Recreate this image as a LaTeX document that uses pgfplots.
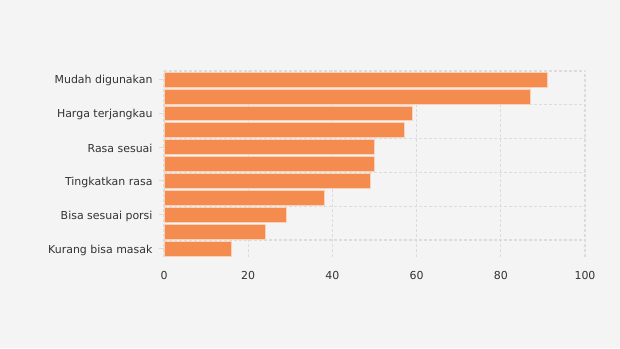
\documentclass[border=0pt]{standalone}
\usepackage{pgfplots}
\pgfplotsset{compat=1.18}
\usepackage{fontspec}
\setmainfont{DejaVu Sans}
\definecolor{bg}{HTML}{F4F4F4}
\definecolor{barc}{HTML}{F48C4F}
\definecolor{gridc}{HTML}{DCDCDC}
\definecolor{txt}{HTML}{333333}
\begin{document}
\begin{tikzpicture}[x=1bp,y=1bp]
\fill[bg] (0,0) rectangle (620,348);
\begin{axis}[
 at={(164bp,91bp)}, anchor=south west,
 scale only axis, width=421bp, height=186bp,
 xbar, bar width=0.88,
 xmin=0, xmax=100, ymin=0.5, ymax=11.5,
 axis line style={draw=none},
 xtick={0,20,...,100}, xmajorgrids,
 xtick style={draw=none},
 ytick pos=left,
 ytick={1,3,5,7,9,11},
 yticklabels={Kurang bisa masak, Bisa sesuai porsi, Tingkatkan rasa, Rasa sesuai, Harga terjangkau, Mudah digunakan},
 ytick style={draw=gridc, line width=1bp},
 major tick length=5bp,
 tick align=outside,
 extra y ticks={1.5,3.5,5.5,7.5,9.5,11.5},
 extra y tick labels={},
 extra y tick style={grid=major, major tick length=0pt, ytick style={draw=none}},
 grid style={gridc, line width=1.2bp, dash pattern=on 3bp off 2bp},
 tick label style={font=\fontsize{11}{12}\selectfont, text=txt},
 xticklabel style={yshift=-6bp},
 yticklabel style={xshift=-3bp, yshift=-1.5bp},
 /pgf/number format/assume math mode=true,
 clip=false,
]
\addplot[fill=barc, draw=barc!40!white, line width=0.5bp] coordinates {
(16,1) (24,2) (29,3) (38,4) (49,5) (50,6) (50,7) (57,8) (59,9) (87,10) (91,11)
};
\end{axis}
\end{tikzpicture}
\end{document}
